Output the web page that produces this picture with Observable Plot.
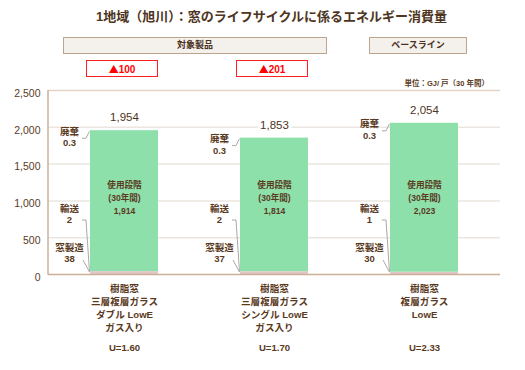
<!DOCTYPE html>
<html><head><meta charset="utf-8">
<script src="https://cdn.jsdelivr.net/npm/d3@7"></script>
<script src="https://cdn.jsdelivr.net/npm/@observablehq/plot@0.6"></script>
<style>
body{margin:0;background:#fff;}
#wrap{position:relative;width:525px;height:370px;overflow:hidden;font-family:"Liberation Sans","Noto Sans CJK JP",sans-serif;color:#5a3a1e;}
#wrap svg{position:absolute;left:0;top:0;}
.title{position:absolute;left:0;width:543px;top:7px;text-align:center;font-size:13px;font-weight:bold;color:#4e3522;line-height:20px;}
.hdr{position:absolute;top:37px;height:15px;border:1px solid #bda58c;background:#f4f0ec;text-align:center;font-size:9px;font-weight:bold;line-height:15px;color:#4a3020;}
.red{position:absolute;top:60px;height:15px;border:1px solid #ff2020;background:#fff;text-align:center;font-size:10px;font-weight:bold;line-height:15px;color:#ff0000;}
.red .tri{font-family:"Noto Sans CJK JP",sans-serif;font-size:10px;}
.unit{position:absolute;right:36px;top:77px;font-size:7.5px;font-weight:bold;color:#5a3a1e;}
</style></head>
<body><div id="wrap"></div>
<script>
const categories = ["樹脂窓\n三層複層ガラス\nダブル LowE\nガス入り", "樹脂窓\n三層複層ガラス\nシングル LowE\nガス入り", "樹脂窓\n複層ガラス\nLowE"];
const uValues = ["U=1.60", "U=1.70", "U=2.33"];
const stages = ["窓製造", "輸送", "使用段階", "廃棄"];
const manufacture = [38, 37, 30];
const transport = [2, 2, 1];
const usePhase = [1914, 1814, 2023];
const disposal = [0.3, 0.3, 0.3];
const totals = [1954, 1853, 2054];
const reductions = [100, 201, null];
const groups = [{label: "対象製品", left: 63, width: 262}, {label: "ベースライン", left: 369, width: 96}];
const yTicks = [0, 500, 1000, 1500, 2000, 2500];

const fmt = d3.format(",");
const products = categories.map((name, i) => ({
  name, u: uValues[i], manufacture: manufacture[i], transport: transport[i],
  use: usePhase[i], disposal: disposal[i], total: totals[i], reduction: reductions[i]
}));
const stageValues = [manufacture, transport, usePhase, disposal];
const rows = [];
categories.forEach((name, i) => stages.forEach((s, j) => rows.push({product: name, stage: s, value: stageValues[j][i]})));

const brown = "#5a3a1e";
const jp = "\"Liberation Sans\",\"Noto Sans CJK JP\",sans-serif";

const plot = Plot.plot({
  width: 525, height: 370,
  marginTop: 90, marginBottom: 96, marginLeft: 48, marginRight: 25,
  style: {fontFamily: jp, color: brown, background: "transparent", overflow: "visible"},
  x: {domain: categories, paddingInner: 0.55, paddingOuter: 0.275, axis: null},
  y: {domain: [0, 2500], axis: null},
  color: {domain: stages, range: ["#e2c6c6", "#d8c8c8", "#8ee0ab", "#8ee0ab"]},
  marks: [
    Plot.ruleY(yTicks.slice(1, -1), {stroke: "#ebe6e1", strokeWidth: 1.5}),
    Plot.ruleY([2500], {stroke: "#e2d4c6", strokeWidth: 1.5}),
    Plot.axisY(yTicks, {tickSize: 0, tickPadding: 8, tickFormat: fmt, dy: 3, fontSize: 10.5, fill: brown}),
    Plot.barY(rows, {x: "product", y: "value", fill: "stage"}),
    Plot.ruleY([0], {stroke: "#cbb096", strokeWidth: 1.5}),
    Plot.text(products, {x: "name", y: "total", text: d => fmt(d.total), dy: -13, fontSize: 11.5, fill: "#4e3522", stroke: "white", strokeWidth: 6}),
    Plot.text(products, {x: "name", y: 1000, text: d => `使用段階\n(30年間)\n${fmt(d.use)}`, dy: -4, lineHeight: 1.55, fontSize: 8.6, fontWeight: "bold", fill: brown}),
    Plot.text(products, {x: "name", y: "total", text: d => `廃棄\n${d.disposal}`, dx: -55, dy: 6, lineHeight: 1.25, fontSize: 9.5, fontWeight: "bold", fill: brown}),
    Plot.text(products, {x: "name", frameAnchor: "bottom", text: d => `輸送\n${d.transport}`, dx: -55, dy: -52, lineHeight: 1.1, fontSize: 9.5, fontWeight: "bold", fill: brown}),
    Plot.text(products, {x: "name", frameAnchor: "bottom", text: d => `窓製造\n${d.manufacture}`, dx: -55, dy: -13, lineHeight: 1.1, fontSize: 9.5, fontWeight: "bold", fill: brown}),
    Plot.text(products, {x: "name", frameAnchor: "bottom", lineAnchor: "top", text: "name", dy: 8, lineHeight: 1.36, fontSize: 9.6, fontWeight: "bold", fill: brown}),
    Plot.text(products, {x: "name", frameAnchor: "bottom", text: "u", dy: 76, fontSize: 9.6, fontWeight: "bold", fill: brown})
  ]
});

const wrap = document.getElementById("wrap");
wrap.appendChild(plot);

const sx = plot.scale("x"), sy = plot.scale("y");
const bw = sx.bandwidth;
const svg = d3.select(plot);
const g = svg.append("g").attr("fill", "none").attr("stroke", "#a9a9a9").attr("stroke-width", 1);
const y0 = sy.apply(0);
svg.append("line").attr("x1", 48).attr("x2", 48).attr("y1", sy.apply(2500)).attr("y2", y0 + 0.75)
  .attr("stroke", "#cbb096").attr("stroke-width", 1.5);
products.forEach(p => {
  const L = sx.apply(p.name);
  const top = sy.apply(p.total);
  g.append("polyline").attr("points", `${L-8},${top+8} ${L-4},${top+8} ${L-0.5},${top+1}`);
  g.append("polyline").attr("points", `${L-8},${y0-54} ${L-4},${y0-54} ${L-0.5},${y0-2}`);
  g.append("polyline").attr("points", `${L-7},${y0-14} ${L-0.5},${y0-2}`);
});

const title = document.createElement("div");
title.className = "title";
title.textContent = "1地域（旭川）：窓のライフサイクルに係るエネルギー消費量";
wrap.appendChild(title);

groups.forEach(gr => {
  const d = document.createElement("div");
  d.className = "hdr";
  d.style.left = gr.left + "px";
  d.style.width = gr.width + "px";
  d.textContent = gr.label;
  wrap.appendChild(d);
});

products.forEach(p => {
  if (p.reduction == null) return;
  const L = sx.apply(p.name);
  const d = document.createElement("div");
  d.className = "red";
  d.style.left = (L - 4) + "px";
  d.style.width = (bw + 2) + "px";
  const tri = document.createElement("span");
  tri.className = "tri";
  tri.textContent = "▲";
  d.appendChild(tri);
  d.appendChild(document.createTextNode(String(p.reduction)));
  wrap.appendChild(d);
});

const unit = document.createElement("div");
unit.className = "unit";
unit.textContent = "単位：GJ/ 戸（30 年間）";
wrap.appendChild(unit);
</script>
</body></html>
